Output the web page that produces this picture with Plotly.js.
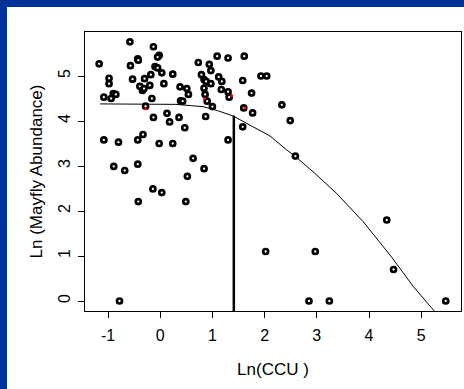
<!DOCTYPE html>
<html>
<head>
<meta charset="utf-8">
<script src="https://cdn.plot.ly/plotly-3.0.1.min.js"></script>
<style>
  html, body { margin: 0; padding: 0; background: #ffffff; }
  body { width: 464px; height: 389px; position: relative; overflow: hidden; }
  #chart { position: absolute; left: 0; top: 0; width: 464px; height: 389px; }
  .band { position: absolute; background: #003399; z-index: 5; }
  #bandTop { left: 0; top: 0; width: 464px; height: 7px; }
  #bandLeft { left: 0; top: 0; width: 7px; height: 389px; }
</style>
</head>
<body>
<div id="chart"></div>
<div class="band" id="bandTop"></div>
<div class="band" id="bandLeft"></div>
<script>
// Observed sites: Ln(CCU) vs Ln(Mayfly Abundance)
const lnCCU = [
  -1.17, -0.58, -0.13, -0.43, -0.42, -0.02, -0.05, -0.57, -0.10, -0.05,
   0.03,  0.24, -0.98, -0.98, -0.53, -0.30, -0.18,  0.07, -0.39, -0.34,
  -0.31, -0.20,  0.38,  0.51,  0.54, -1.08, -0.94, -0.90, -0.85, -0.16,
   0.39,  0.43, -0.28,  0.73,  0.94,  0.97,  1.09,  1.30,  1.61,  0.79,
   0.84,  0.88,  0.97,  1.12,  1.18,  1.58,  1.93,  2.04,  0.84,  0.86,
   0.90,  1.17,  1.30,  1.32,  1.75,  1.00,  1.60,  1.77,  2.33,  0.87,
  -0.13,  0.13,  0.18,  0.36,  0.47, -1.08, -0.80, -0.43, -0.33, -0.02,
   0.24,  0.63, -0.89, -0.68, -0.43,  0.52, -0.14,  0.03, -0.42,  0.49,
   1.58,  2.49,  1.30,  0.84,  2.59,  2.02,  2.97,  4.34,  4.47,  2.85,
   3.24,  5.47, -0.78
];
const lnMayfly = [
   5.27,  5.76,  5.65,  5.38,  5.35,  5.46,  5.42,  5.23,  5.21,  5.18,
   5.07,  5.04,  4.95,  4.83,  4.93,  4.94,  5.03,  4.83,  4.77,  4.68,
   4.72,  4.79,  4.76,  4.72,  4.59,  4.53,  4.50,  4.61,  4.59,  4.50,
   4.45,  4.44,  4.33,  5.30,  5.26,  5.12,  5.44,  5.40,  5.44,  5.03,
   4.92,  4.88,  4.83,  4.98,  4.88,  4.90,  5.00,  5.00,  4.73,  4.59,
   4.44,  4.70,  4.65,  4.53,  4.62,  4.32,  4.29,  4.18,  4.36,  4.10,
   4.08,  4.17,  3.98,  4.08,  3.85,  3.58,  3.53,  3.58,  3.70,  3.50,
   3.50,  3.17,  2.99,  2.90,  3.04,  2.77,  2.49,  2.41,  2.21,  2.21,
   3.87,  4.01,  3.58,  2.94,  3.22,  1.10,  1.10,  1.80,  0.70,  0.00,
   0.00,  0.00,  0.00
];
// small red marks
const redCCU    = [-0.28, 0.85, 1.37, 1.62];
const redMayfly = [ 4.27, 4.50, 4.56, 4.29];
// fitted upper-boundary curve
const curveCCU    = [-1.15, -0.50, 0.00, 0.30, 0.60, 0.82, 1.10, 1.40, 1.78, 2.10, 2.42, 2.58, 2.96, 3.38, 3.89, 4.43, 4.85, 5.27];
const curveMayfly = [ 4.38,  4.38, 4.38, 4.37, 4.34, 4.32, 4.23, 4.11, 3.87, 3.67, 3.36, 3.22, 2.84, 2.39, 1.76, 0.98, 0.32, -0.25];
// threshold line
const cutCCU    = [1.41, 1.41];
const cutMayfly = [-0.3, 4.12];
// ticks
const xTicks = [-1, 0, 1, 2, 3, 4, 5];
const yTicks = [0, 1, 2, 3, 4, 5];

const FONT = '"Liberation Sans", Arial, Helvetica, sans-serif';

const traces = [
  { x: curveCCU, y: curveMayfly, mode: 'lines', type: 'scatter',
    line: { color: '#000000', width: 1 }, hoverinfo: 'skip' },
  { x: cutCCU, y: cutMayfly, mode: 'lines', type: 'scatter',
    line: { color: '#000000', width: 2.5 }, hoverinfo: 'skip' },
  { x: lnCCU, y: lnMayfly, mode: 'markers', type: 'scatter',
    marker: { symbol: 'circle', size: 5, color: '#ffffff', line: { color: '#000000', width: 2.7 } } },
  { x: redCCU, y: redMayfly, mode: 'markers', type: 'scatter',
    marker: { symbol: 'circle', size: 3, color: '#ff0000', line: { width: 0 } } }
];

const layout = {
  width: 464, height: 389,
  margin: { l: 85, r: 3, t: 32, b: 78 },
  paper_bgcolor: '#ffffff', plot_bgcolor: '#ffffff',
  showlegend: false,
  font: { family: FONT, color: '#000000', size: 16 },
  xaxis: {
    range: [-1.441, 5.762], tickvals: xTicks, ticktext: xTicks.map(String),
    showgrid: false, zeroline: false, showline: true, mirror: true,
    linecolor: '#000000', linewidth: 1,
    ticks: 'outside', ticklen: 6, tickcolor: '#000000', tickwidth: 1,
    ticklabelstandoff: 4,
    tickfont: { family: FONT, size: 16, color: '#000000' },
    title: { text: 'Ln(CCU )', font: { family: FONT, size: 17, color: '#000000' }, standoff: 19 }
  },
  yaxis: {
    range: [-0.222, 5.978], tickvals: yTicks, ticktext: yTicks.map(String),
    showgrid: false, zeroline: false, showline: true, mirror: true,
    linecolor: '#000000', linewidth: 1,
    ticks: 'outside', ticklen: 6, tickcolor: '#000000', tickwidth: 1,
    tickangle: -90, ticklabelstandoff: 2,
    tickfont: { family: FONT, size: 16, color: '#000000' },
    title: { text: 'Ln (Mayfly Abundance)', font: { family: FONT, size: 17, color: '#000000' }, standoff: 8 }
  }
};

Plotly.newPlot('chart', traces, layout, { displayModeBar: false, staticPlot: true });
</script>
</body>
</html>
